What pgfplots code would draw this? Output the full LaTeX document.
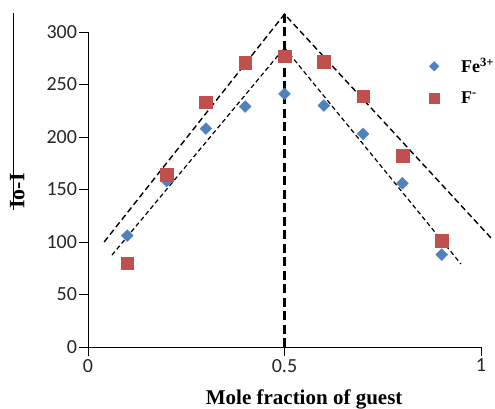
\documentclass[border=0pt]{standalone}
\usepackage{fontspec}
\setmainfont{Carlito}
\newfontfamily\tnr{Liberation Serif}
\usepackage{pgfplots}
\pgfplotsset{compat=1.18}
\definecolor{feblue}{RGB}{79,129,189}
\definecolor{fred}{RGB}{192,80,77}
\begin{document}
\begin{tikzpicture}[x=1bp,y=1bp]
\useasboundingbox (0,0) rectangle (495,408);
\draw[line width=0.8bp] (13,395) -- (13,198);
\begin{axis}[
  at={(88bp,61bp)}, anchor=south west,
  width=393bp, height=315bp, scale only axis,
  xmin=0, xmax=1, ymin=0, ymax=300,
  axis lines=left,
  axis line style={-, line width=1bp, black},
  clip=false,
  xtick={0,0.5,1}, xticklabels={0,0.5,1},
  ytick={0,50,100,150,200,250,300},
  tick align=outside,
  major tick length=8.5bp,
  tick style={black, line width=1bp},
  ticklabel style={font=\fontsize{20bp}{24bp}\selectfont, text=black!85},
  yticklabel style={xshift=1bp},
  /pgf/number format/assume math mode=true,
  xlabel={Mole fraction of guest},
  ylabel={Io-I},
  xlabel style={at={(rel axis cs:0.55,-0.184)}, anchor=base, font=\tnr\bfseries\fontsize{21bp}{24bp}\selectfont},
  ylabel style={at={(rel axis cs:-0.18,0.495)}, anchor=center, font=\tnr\bfseries\fontsize{22bp}{24bp}\selectfont},
  legend style={at={(rel axis cs:0.86,0.93)}, anchor=north west, draw=none, fill=none,
    font=\tnr\bfseries\fontsize{18bp}{21bp}\selectfont, row sep=13bp},
  legend cell align=left,
  legend image code/.code={\path[draw=none, fill=none] (0bp,-2bp) rectangle (29bp,2bp); \draw[#1] plot coordinates {(4bp,0bp)};},
]
\addlegendimage{only marks, mark=square*, mark size=3.4bp, mark options={rotate=45, fill=feblue, draw=feblue}}
\addlegendentry{Fe\textsuperscript{3+}}
\addlegendimage{only marks, mark=square*, mark size=5bp, mark options={fill=fred, draw=fred}}
\addlegendentry{F\textsuperscript{-}}
\addplot[only marks, mark=square*, mark size=4.2bp, mark options={rotate=45, fill=feblue, draw=feblue}, forget plot]
  coordinates {(0.1,106) (0.2,158) (0.3,208) (0.4,229) (0.5,241) (0.6,230) (0.7,203) (0.8,156) (0.9,88)};
\addplot[only marks, mark=square*, mark size=6.3bp, mark options={fill=fred, draw=fred}, forget plot]
  coordinates {(0.1,80) (0.2,164) (0.3,233) (0.4,271) (0.5,277) (0.6,272) (0.7,239) (0.8,182) (0.9,101)};
\addplot[black, line width=1.4bp, dash pattern=on 6bp off 3.5bp, forget plot]
  coordinates {(0.041,100) (0.5,317) (1.03,102)};
\addplot[black, line width=1.2bp, dash pattern=on 4.5bp off 3bp, forget plot]
  coordinates {(0.061,87.6) (0.5,285) (0.949,79)};
\addplot[black, line width=2.6bp, dash pattern=on 9bp off 4.5bp, forget plot]
  coordinates {(0.5,0) (0.5,317)};
\end{axis}
\end{tikzpicture}
\end{document}
